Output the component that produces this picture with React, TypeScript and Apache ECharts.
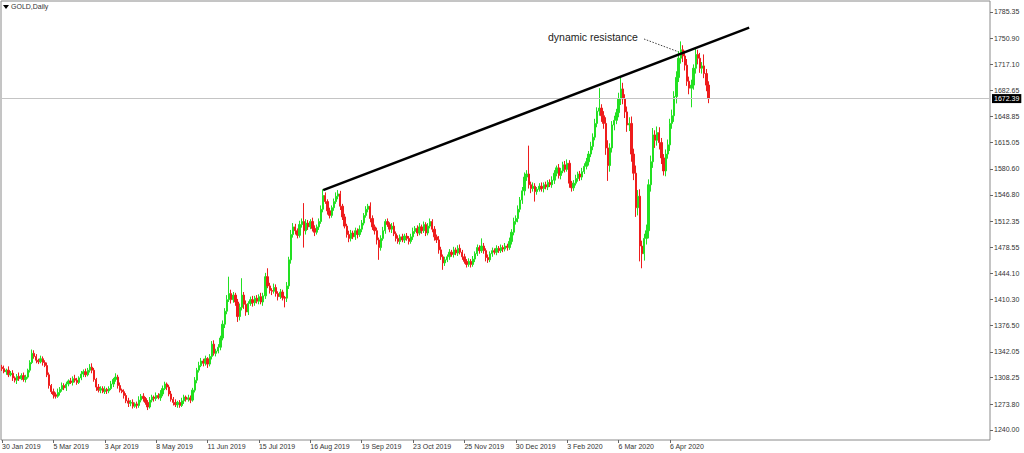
import React, { useEffect, useRef } from "react";
import * as echarts from "echarts";

const xLabels = [
  "30 Jan 2019", "5 Mar 2019", "3 Apr 2019", "8 May 2019", "11 Jun 2019", "15 Jul 2019", "16 Aug 2019",
  "19 Sep 2019", "23 Oct 2019", "25 Nov 2019", "30 Dec 2019", "3 Feb 2020", "6 Mar 2020", "6 Apr 2020",
];
const LABEL_STEP = 24;
const SLOTS = 462;

const yLabels = [
  "1240.00", "1273.80", "1308.25", "1342.05", "1376.50", "1410.30", "1444.10", "1478.55", "1512.35",
  "1546.80", "1580.60", "1615.05", "1648.85", "1682.65", "1717.10", "1750.90", "1785.35",
];

const firstOpen = 1322;
const closes = [
  1320, 1316, 1318, 1312, 1314, 1308, 1305, 1310, 1307, 1311,
  1306, 1309, 1318, 1328, 1340, 1336, 1331, 1329, 1333, 1328,
  1324, 1312, 1298, 1290, 1286, 1284, 1289, 1293, 1298, 1295,
  1300, 1304, 1302, 1307, 1305, 1302, 1308, 1313, 1316, 1312,
  1318, 1322, 1318, 1306, 1296, 1292, 1294, 1290, 1293, 1291,
  1294, 1300, 1306, 1309, 1298, 1292, 1290, 1285, 1278, 1275,
  1276, 1271, 1274, 1272, 1279, 1284, 1281, 1276, 1270, 1279,
  1283, 1281, 1285, 1282, 1287, 1294, 1300, 1296, 1287, 1280,
  1276, 1273, 1276, 1272, 1278, 1283, 1280, 1282, 1279, 1292,
  1305, 1318, 1324, 1330, 1327, 1333, 1326, 1336, 1352, 1340,
  1343, 1348, 1360, 1378, 1395, 1410, 1418, 1410, 1416, 1407,
  1388, 1400, 1416, 1404, 1394, 1405, 1410, 1406, 1412, 1408,
  1414, 1407, 1415, 1440, 1428, 1422, 1421, 1426, 1418, 1414,
  1420, 1413, 1412, 1428, 1462, 1495, 1505, 1500, 1494, 1508,
  1512, 1500, 1510, 1505, 1512, 1503, 1498, 1505, 1512, 1528,
  1546, 1538, 1526, 1520, 1530, 1538, 1545, 1548, 1532, 1518,
  1506, 1495, 1490, 1497, 1492, 1500, 1495, 1502, 1510, 1520,
  1528, 1532, 1516, 1505, 1500, 1488, 1478, 1490, 1500, 1512,
  1508, 1502, 1506, 1496, 1490, 1486, 1492, 1488, 1493, 1490,
  1486, 1492, 1499, 1503, 1497, 1505, 1500, 1508, 1497, 1506,
  1512, 1502, 1492, 1488, 1475, 1466, 1458, 1462, 1466, 1472,
  1469, 1475, 1471, 1477, 1472, 1466, 1460, 1456, 1460, 1456,
  1463, 1470, 1478, 1474, 1480, 1474, 1465, 1462, 1470, 1474,
  1472, 1477, 1474, 1478, 1476, 1480, 1478, 1486, 1498, 1512,
  1516, 1528, 1540, 1552, 1570, 1574, 1560, 1555, 1558, 1551,
  1554, 1558, 1555, 1560, 1557, 1563, 1560, 1566, 1575, 1582,
  1572, 1578, 1586, 1580, 1588, 1562, 1556, 1562, 1568, 1574,
  1570, 1577, 1584, 1590, 1600, 1610, 1622, 1640, 1656, 1660,
  1650, 1640, 1608, 1585, 1608, 1638, 1644, 1654, 1672, 1685,
  1672, 1655, 1638, 1640, 1600, 1575, 1530, 1545, 1480, 1470,
  1490, 1500, 1560, 1590, 1625, 1618, 1628, 1615, 1595, 1578,
  1600, 1612, 1640, 1650, 1675, 1700, 1725, 1736, 1728, 1716,
  1695, 1686, 1690, 1712, 1730, 1725, 1712, 1715, 1705, 1690,
  1672.39,
];
const wickUp = [
  3, 4, 2, 5, 3, 4, 2, 3, 5, 3,
  4, 3, 2, 3, 5, 4, 3, 2, 4, 3,
  3, 4, 3, 2, 4, 3, 5, 3, 4, 3,
  3, 2, 4, 3, 5, 3, 2, 4, 3, 4,
  3, 4, 5, 3, 2, 4, 3, 3, 4, 2,
  3, 4, 2, 5, 3, 4, 2, 3, 3, 4,
  3, 4, 2, 3, 5, 3, 4, 2, 3, 4,
  3, 2, 4, 3, 5, 4, 3, 2, 3, 4,
  3, 4, 2, 3, 4, 3, 2, 4, 3, 3,
  4, 3, 5, 4, 3, 4, 2, 3, 4, 5,
  3, 4, 3, 5, 4, 6, 22, 5, 4, 3,
  4, 5, 22, 4, 5, 3, 4, 5, 3, 4,
  3, 5, 4, 5, 11, 4, 3, 5, 4, 3,
  4, 3, 2, 5, 4, 6, 5, 4, 3, 5,
  4, 24, 5, 4, 3, 5, 4, 3, 4, 5,
  8, 4, 3, 4, 3, 4, 5, 5, 4, 3,
  4, 3, 5, 4, 3, 4, 3, 5, 4, 3,
  4, 3, 5, 4, 3, 4, 3, 4, 5, 3,
  4, 3, 4, 5, 3, 4, 3, 4, 3, 4,
  3, 4, 5, 3, 4, 5, 3, 4, 3, 4,
  4, 3, 4, 3, 5, 4, 3, 4, 3, 4,
  3, 4, 3, 4, 5, 3, 4, 3, 4, 3,
  4, 3, 4, 3, 10, 4, 3, 4, 3, 4,
  3, 4, 3, 4, 3, 4, 3, 5, 4, 5,
  4, 5, 4, 5, 6, 5, 37, 4, 5, 4,
  3, 4, 5, 3, 4, 3, 4, 5, 4, 3,
  5, 4, 4, 5, 5, 4, 3, 4, 5, 3,
  4, 5, 4, 5, 4, 6, 5, 6, 5, 26,
  5, 6, 8, 10, 6, 5, 6, 5, 8, 15,
  8, 6, 7, 8, 9, 7, 10, 8, 9, 7,
  6, 8, 7, 8, 9, 6, 8, 7, 6, 5,
  6, 7, 6, 8, 7, 8, 9, 11, 6, 7,
  8, 6, 7, 5, 8, 6, 7, 5, 15, 6,
  5,
];
const wickDn = [
  3, 2, 4, 3, 2, 4, 3, 5, 3, 2,
  3, 4, 2, 3, 2, 3, 4, 3, 2, 4,
  2, 3, 4, 3, 5, 3, 2, 4, 3, 3,
  4, 3, 2, 4, 3, 3, 2, 3, 4, 3,
  2, 3, 4, 3, 5, 3, 4, 2, 3, 4,
  3, 2, 4, 3, 4, 3, 2, 4, 3, 5,
  4, 3, 2, 4, 3, 3, 4, 3, 4, 2,
  3, 4, 3, 2, 4, 3, 2, 4, 3, 3,
  4, 3, 4, 3, 2, 4, 3, 3, 4, 2,
  3, 4, 3, 2, 4, 3, 5, 3, 4, 3,
  4, 3, 4, 3, 5, 4, 3, 5, 4, 5,
  7, 5, 4, 6, 5, 4, 3, 5, 4, 3,
  4, 3, 5, 4, 3, 4, 5, 3, 4, 5,
  3, 4, 12, 5, 4, 5, 4, 5, 4, 3,
  4, 22, 5, 4, 3, 4, 5, 3, 4, 3,
  4, 3, 5, 4, 3, 4, 3, 4, 5, 4,
  3, 4, 5, 4, 3, 4, 5, 3, 4, 3,
  3, 4, 5, 4, 5, 6, 16, 4, 3, 4,
  3, 4, 5, 3, 4, 3, 4, 3, 4, 3,
  4, 3, 4, 3, 4, 3, 4, 3, 4, 3,
  3, 4, 5, 4, 5, 4, 9, 4, 3, 4,
  3, 4, 3, 4, 3, 4, 3, 4, 3, 4,
  3, 4, 3, 4, 3, 4, 5, 4, 3, 4,
  3, 4, 3, 3, 4, 3, 4, 3, 4, 4,
  4, 5, 4, 5, 6, 5, 5, 6, 4, 13,
  4, 3, 4, 5, 3, 4, 3, 4, 5, 4,
  4, 5, 3, 4, 3, 6, 5, 4, 3, 4,
  5, 4, 3, 4, 5, 4, 5, 4, 5, 6,
  8, 7, 9, 20, 8, 6, 7, 5, 6, 8,
  7, 8, 9, 8, 10, 9, 12, 10, 20, 19,
  9, 8, 10, 9, 8, 10, 7, 9, 8, 6,
  7, 6, 8, 7, 8, 9, 6, 7, 8, 7,
  6, 8, 25, 6, 7, 8, 6, 7, 6, 8,
  6,
];

const lastPrice = 1672.39;
const trendStart = [150, 1553];
const trendEnd = [349, 1765];
const annotation = "dynamic resistance";
const title = "GOLD,Daily";

const UP = "#22e022";
const DOWN = "#ee1c1c";
const FONT = "'Liberation Sans', Arial, sans-serif";

export default function App() {
  const ref = useRef<HTMLDivElement>(null);
  useEffect(() => {
    const chart = echarts.init(ref.current!, null, { renderer: "svg" });
    const candles = closes.map((c, i) => {
      const o = i === 0 ? firstOpen : closes[i - 1];
      return [o, c, Math.min(o, c) - wickDn[i], Math.max(o, c) + wickUp[i]];
    });
    const cats = Array.from({ length: SLOTS }, (_, i) => String(i));
    const showLabel = (i: number) => i % LABEL_STEP === 0 && i / LABEL_STEP < xLabels.length;
    const yVals = yLabels.map(Number);

    chart.setOption({
      animation: false,
      backgroundColor: "#ffffff",
      grid: {
        left: 1,
        right: 34,
        top: 1,
        bottom: 13,
        show: true,
        borderColor: "#8a8a8a",
        borderWidth: 1,
        containLabel: false,
        outerBoundsMode: "none",
      },
      xAxis: {
        type: "category",
        data: cats,
        boundaryGap: true,
        axisLine: { show: false },
        axisTick: {
          show: true,
          alignWithLabel: true,
          interval: (i: number) => showLabel(i),
          length: 3,
          lineStyle: { color: "#666" },
        },
        axisLabel: {
          interval: (i: number) => showLabel(i),
          formatter: (_v: string, i: number) => xLabels[Math.round(i / LABEL_STEP)] ?? "",
          align: "left",
          margin: 3,
          fontSize: 7,
          fontFamily: FONT,
          color: "#333",
        },
        splitLine: { show: false },
      },
      yAxis: {
        type: "value",
        position: "right",
        min: 1226.95,
        max: 1799.7,
        scale: true,
        axisLine: { show: false },
        axisTick: {
          show: true,
          length: 3,
          customValues: yVals,
          lineStyle: { color: "#666" },
        },
        axisLabel: {
          customValues: yVals,
          formatter: (v: number) => v.toFixed(2),
          margin: 4,
          fontSize: 7,
          fontFamily: FONT,
          color: "#333",
        },
        splitLine: { show: false },
      },
      series: [
        {
          type: "candlestick",
          data: candles,
          barWidth: 1.8,
          itemStyle: {
            color: UP,
            color0: DOWN,
            borderColor: UP,
            borderColor0: DOWN,
            borderWidth: 1,
          },
          markLine: {
            silent: true,
            symbol: ["none", "none"],
            lineStyle: { color: "#c4c4c4", width: 1, type: "solid" },
            label: {
              show: true,
              position: "end",
              distance: 2,
              formatter: () => lastPrice.toFixed(2),
              backgroundColor: "#000",
              color: "#fff",
              padding: [1, 2, 1, 2],
              fontSize: 7,
              fontFamily: FONT,
            },
            data: [{ yAxis: lastPrice }],
          },
          z: 3,
        },
        {
          type: "line",
          data: [trendStart, trendEnd],
          showSymbol: false,
          symbol: "none",
          silent: true,
          lineStyle: { color: "#000", width: 2.5 },
          z: 5,
        },
      ],
      graphic: [
        {
          type: "polygon",
          shape: { points: [[3, 5], [9, 5], [6, 9]] },
          style: { fill: "#000" },
        },
        {
          type: "text",
          left: 11,
          top: 3,
          style: { text: title, fontSize: 7, fontFamily: FONT, fill: "#333" },
        },
        {
          type: "text",
          left: 548,
          top: 31,
          style: { text: annotation, fontSize: 10.5, fontFamily: FONT, fill: "#222" },
        },
        {
          type: "line",
          shape: { x1: 644, y1: 39, x2: 679, y2: 52 },
          style: { stroke: "#444", lineWidth: 1, lineDash: [1.5, 1.5] },
        },
      ],
    });
    return () => chart.dispose();
  }, []);
  return <div ref={ref} style={{ position: "fixed", left: 0, top: 0, width: 1024, height: 453 }} />;
}
